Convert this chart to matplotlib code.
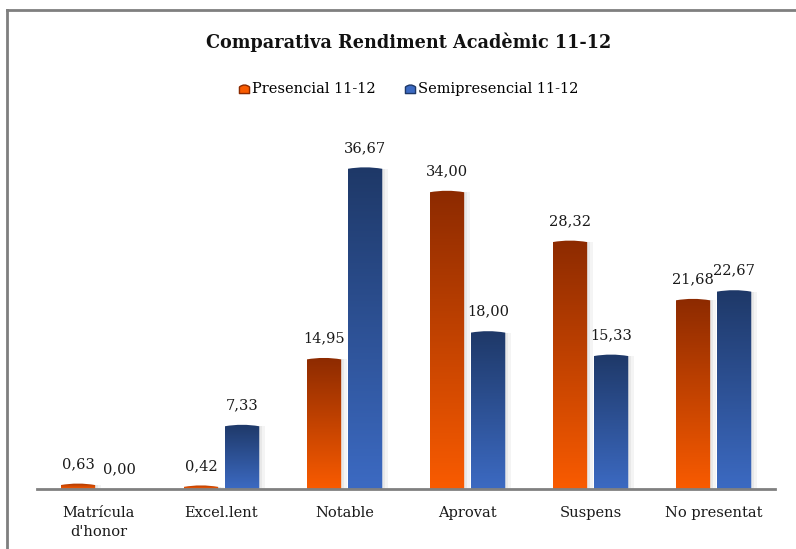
import numpy as np
import matplotlib.pyplot as plt
from matplotlib.path import Path
from matplotlib.patches import PathPatch, Rectangle
from matplotlib.lines import Line2D

# dades
categories = ["Matrícula\nd'honor", "Excel.lent", "Notable", "Aprovat", "Suspens", "No presentat"]
presencial = [0.63, 0.42, 14.95, 34.00, 28.32, 21.68]
semipresencial = [0.00, 7.33, 36.67, 18.00, 15.33, 22.67]
series_names = ["Presencial 11-12", "Semipresencial 11-12"]

plt.rcParams['font.family'] = ['DejaVu Serif']

orange = ("#8c2a00", "#f95b00")
blue = ("#1e3867", "#3c6ac2")

fig = plt.figure(figsize=(7.96, 5.49), dpi=100)
ax = fig.add_axes([37/796, 1-489/549, 738/796, 351/549])

x = np.arange(len(categories))
w = 0.28
off = 0.167


def grad_img(top, bottom, n=128):
    c1 = np.array(plt.matplotlib.colors.to_rgb(top))
    c2 = np.array(plt.matplotlib.colors.to_rgb(bottom))
    t = np.linspace(0, 1, n)[:, None]
    return (c1 * (1 - t) + c2 * t)[:, None, :]


def fmt(v):
    return f"{v:.2f}".replace('.', ',')


def draw_series(xs, vals, cols):
    bars = ax.bar(xs, vals, w, color='none', edgecolor='none')
    img = grad_img(*cols)
    for b, v in zip(bars, vals):
        x0, x1 = b.get_x(), b.get_x() + b.get_width()
        h = b.get_height()
        ax.text((x0 + x1) / 2, h + 1.4, fmt(v), ha='center', va='bottom',
                fontsize=10.5, color='#1a1a1a')
        if h <= 0:
            continue
        bump = 0.18
        top = max(h - bump, h * 0.5)
        # ombra
        ax.add_patch(Rectangle((x1, 0), 0.025, top, color='#d9d9d9', alpha=0.6, lw=0, zorder=1))
        ax.add_patch(Rectangle((x1 + 0.025, 0), 0.025, top, color='#eeeeee', alpha=0.6, lw=0, zorder=1))
        verts = [(x0, 0), (x1, 0), (x1, top), ((x0 + x1) / 2, h + bump * 0.9), (x0, top), (x0, 0)]
        codes = [Path.MOVETO, Path.LINETO, Path.LINETO, Path.CURVE3, Path.CURVE3, Path.CLOSEPOLY]
        patch = PathPatch(Path(verts, codes), facecolor='none', edgecolor='none')
        ax.add_patch(patch)
        im = ax.imshow(img, extent=(x0, x1, 0, h + bump), aspect='auto', zorder=2)
        im.set_clip_path(patch)


draw_series(x - off, presencial, orange)
draw_series(x + off, semipresencial, blue)

ax.set_xlim(-0.5, len(categories) - 0.5)
ax.set_ylim(0, 40)
for s in ['top', 'right', 'left']:
    ax.spines[s].set_visible(False)
ax.spines['bottom'].set_color('#808080')
ax.spines['bottom'].set_linewidth(2)
ax.set_yticks([])
ax.set_xticks(x)
ax.set_xticklabels(categories, fontsize=10.5, color='#1a1a1a', linespacing=1.45)
ax.tick_params(axis='x', length=0, pad=12)

fig.text(0.513, 1 - 42/549, "Comparativa Rendiment Acadèmic 11-12", ha='center', va='center',
         fontsize=12.7, fontweight='bold', color='#111111')

# marc
fig.add_artist(Line2D([7/796, 1], [1-10/549, 1-10/549], color='#7f7f7f', lw=2))
fig.add_artist(Line2D([7/796, 7/796], [0, 1-10/549], color='#7f7f7f', lw=2))

house = Path([(-1, -1), (1, -1), (1, 0.3), (0, 1.1), (-1, 0.3), (-1, -1)],
             [Path.MOVETO, Path.LINETO, Path.LINETO, Path.CURVE3, Path.CURVE3, Path.CLOSEPOLY])
handles = [Line2D([], [], marker=house, color=orange[1], markeredgecolor=orange[0], markersize=8, ls='none'),
           Line2D([], [], marker=house, color=blue[1], markeredgecolor=blue[0], markersize=8, ls='none')]
fig.legend(handles, series_names, loc='center', bbox_to_anchor=(0.512, 1 - 89/549), ncol=2,
           frameon=False, fontsize=10.5, handletextpad=0.1, columnspacing=1.8, handlelength=1)

fig.savefig('out.png', dpi=100)
